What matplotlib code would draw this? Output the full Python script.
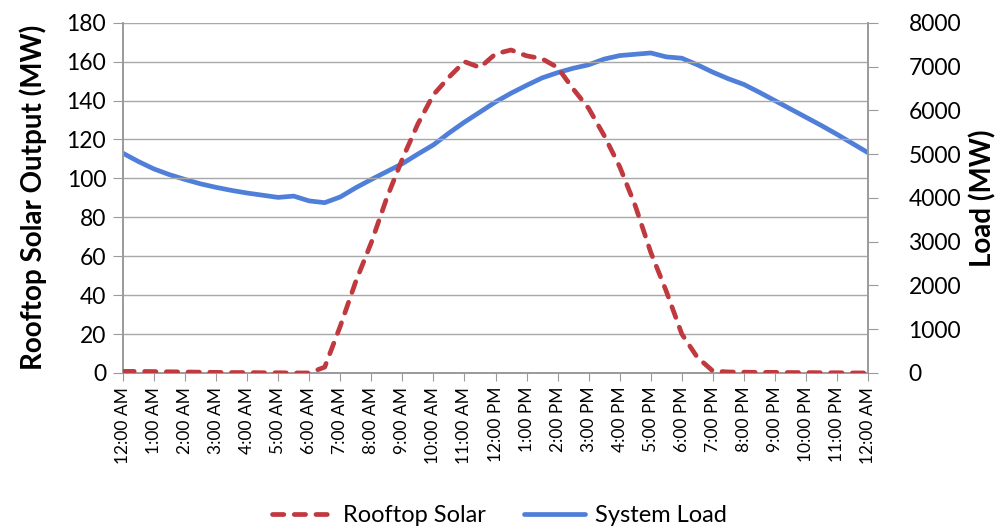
import numpy as np
import matplotlib.pyplot as plt

# half-hourly readings, midnight to midnight
hours = np.arange(0, 24.5, 0.5)

rooftop_solar = [0.8, 0.8, 0.7, 0.6, 0.5, 0.4, 0.3, 0.2, 0.2, 0.1, 0.1, 0.0,
                 0.0, 3, 24, 47, 67, 90, 110, 128, 143, 152, 160, 157,
                 164, 166, 163, 161.5, 157, 146, 136, 122, 106, 86, 62, 42,
                 20, 8, 1, 0.5, 0.4, 0.3, 0.3, 0.2, 0.2, 0.1, 0.1, 0.0, 0.0]

system_load = [5020, 4830, 4660, 4530, 4420, 4320, 4240, 4170, 4110, 4060, 4010, 4040,
               3930, 3890, 4020, 4230, 4420, 4600, 4780, 5000, 5210, 5480, 5730, 5960,
               6190, 6390, 6570, 6740, 6860, 6960, 7040, 7170, 7250, 7280, 7310, 7220,
               7190, 7040, 6870, 6720, 6590, 6410, 6220, 6030, 5840, 5650, 5450, 5240, 5030]

tick_labels = ['12:00 AM', '1:00 AM', '2:00 AM', '3:00 AM', '4:00 AM', '5:00 AM',
               '6:00 AM', '7:00 AM', '8:00 AM', '9:00 AM', '10:00 AM', '11:00 AM',
               '12:00 PM', '1:00 PM', '2:00 PM', '3:00 PM', '4:00 PM', '5:00 PM',
               '6:00 PM', '7:00 PM', '8:00 PM', '9:00 PM', '10:00 PM', '11:00 PM',
               '12:00 AM']

plt.rcParams['font.family'] = ['Lato', 'DejaVu Sans']

red = '#C0393F'
blue = '#4F7FD9'
grey = '#9A9A9A'

fig = plt.figure(figsize=(9.99, 5.29), dpi=100)
ax = fig.add_axes([0.123, 0.295, 0.746, 0.662])
ax2 = ax.twinx()

# solar on the left axis, load on the right one
l1, = ax.plot(hours, rooftop_solar, color=red, lw=3.4, dashes=(2.4, 2.2),
              dash_capstyle='round', label='Rooftop Solar', zorder=3)
l2, = ax2.plot(hours, system_load, color=blue, lw=3.4, label='System Load',
               solid_capstyle='round')

ax.set_zorder(ax2.get_zorder() + 1)
ax.patch.set_visible(False)

ax.set_xlim(0, 24)
ax.set_ylim(0, 180)
ax.set_yticks(range(0, 181, 20))
ax2.set_ylim(0, 8000)
ax2.set_yticks(range(0, 8001, 1000))

ax.set_xticks(range(25))
ax.set_xticklabels(tick_labels, rotation=90, fontsize=12.5)
ax.grid(axis='y', color='#A8A8A8', lw=1)
ax.set_axisbelow(True)

for a in (ax, ax2):
    a.spines['top'].set_visible(False)
    for s in ('left', 'right', 'bottom'):
        a.spines[s].set_color(grey)
        a.spines[s].set_linewidth(1.2)
    a.tick_params(axis='y', labelsize=16.5, length=7, color=grey)
ax.tick_params(axis='y', pad=5)
ax2.tick_params(axis='y', pad=22)
ax.tick_params(axis='x', length=6, color=grey, pad=4)

ax.set_ylabel('Rooftop Solar Output (MW)', fontsize=20, fontweight='bold', labelpad=14)
ax2.set_ylabel('Load (MW)', fontsize=20, fontweight='bold', labelpad=6)

fig.legend(handles=[l1, l2], loc='lower center', ncol=2, frameon=False,
           fontsize=17, handlelength=2.6, handletextpad=0.4, columnspacing=1.6,
           bbox_to_anchor=(0.5, -0.035))

fig.savefig('out.png', dpi=100)
